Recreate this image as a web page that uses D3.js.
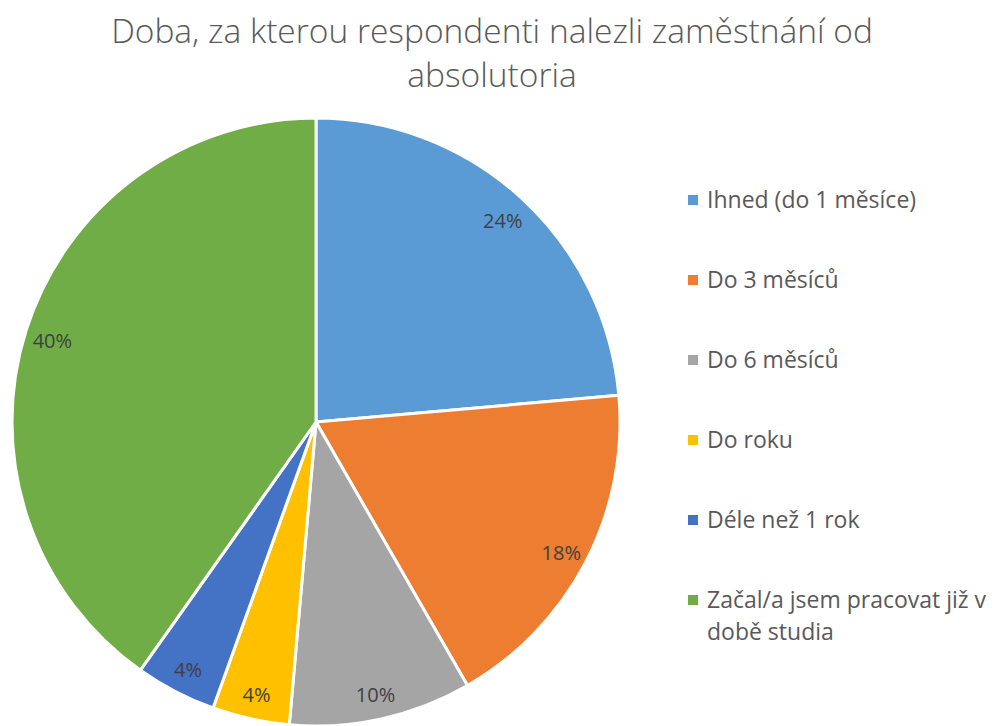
<!DOCTYPE html>
<html lang="cs">
<head>
    <meta charset="UTF-8">
    <title>Doba nalezení zaměstnání</title>
    <script src="https://cdn.jsdelivr.net/npm/d3@7"></script>
    <style>
        body { margin: 0; background: #fff; }
        text { font-family: "Open Sans", Lato, sans-serif; }
    </style>
</head>
<body>
</body>
<script>
    const width = 993;
    const height = 726;

    // data
    const categories = ["Ihned (do 1 měsíce)", "Do 3 měsíců", "Do 6 měsíců", "Do roku", "Déle než 1 rok", "Začal/a jsem pracovat již v době studia"];
    const values = [23.6, 18.1, 9.7, 4.1, 4.3, 40.2];
    const valueLabels = ["24%", "18%", "10%", "4%", "4%", "40%"];
    const colors = ["#5b9bd5", "#ed7d31", "#a5a5a5", "#ffc000", "#4472c4", "#70ad47"];
    const titleLines = ["Doba, za kterou respondenti nalezli zaměstnání od", "absolutoria"];
    const legendLines = [["Ihned (do 1 měsíce)"], ["Do 3 měsíců"], ["Do 6 měsíců"], ["Do roku"], ["Déle než 1 rok"], ["Začal/a jsem pracovat již v", "době studia"]];

    const svg = d3.select("body")
        .append("svg")
        .attr("width", width)
        .attr("height", height);

    // title
    svg.append("g").selectAll("text")
        .data(titleLines)
        .enter()
        .append("text")
        .attr("x", 492)
        .attr("y", (d, i) => 43 + i * 44)
        .attr("text-anchor", "middle")
        .style("font-size", "33.5px")
        .style("font-weight", 300)
        .attr("fill", "#595959")
        .text(d => d);

    const radius = 304;
    const cx = 316, cy = 422;

    const pie = d3.pie().sort(null).value(d => d.value);
    const arc = d3.arc().innerRadius(0).outerRadius(radius);
    const labelArc = d3.arc().innerRadius(radius * 0.91).outerRadius(radius * 0.91);

    const data = categories.map((c, i) => ({ name: c, value: values[i], label: valueLabels[i], color: colors[i] }));
    const arcs = pie(data);

    const g = svg.append("g").attr("transform", `translate(${cx}, ${cy})`);

    g.selectAll("path")
        .data(arcs)
        .enter()
        .append("path")
        .attr("d", arc)
        .attr("fill", d => d.data.color)
        .attr("stroke", "#fff")
        .attr("stroke-width", 3)
        .attr("stroke-linejoin", "round");

    g.selectAll("text")
        .data(arcs)
        .enter()
        .append("text")
        .attr("transform", d => `translate(${labelArc.centroid(d)})`)
        .attr("text-anchor", "middle")
        .attr("dy", "0.5em")
        .style("font-size", "20px")
        .attr("fill", "#404040")
        .text(d => d.data.label);

    // legend
    const legend = svg.append("g").attr("transform", "translate(688, 200)");
    const items = legend.selectAll("g")
        .data(legendLines)
        .enter()
        .append("g")
        .attr("transform", (d, i) => `translate(0, ${i * 80})`);

    items.append("rect")
        .attr("x", 0)
        .attr("y", -5)
        .attr("width", 10)
        .attr("height", 10)
        .attr("fill", (d, i) => colors[i]);

    items.append("text")
        .attr("x", 19)
        .attr("y", 8)
        .style("font-size", "23px")
        .attr("fill", "#595959")
        .selectAll("tspan")
        .data(d => d)
        .enter()
        .append("tspan")
        .attr("x", 19)
        .attr("dy", (d, i) => i === 0 ? 0 : 32)
        .text(d => d);
</script>
</html>
